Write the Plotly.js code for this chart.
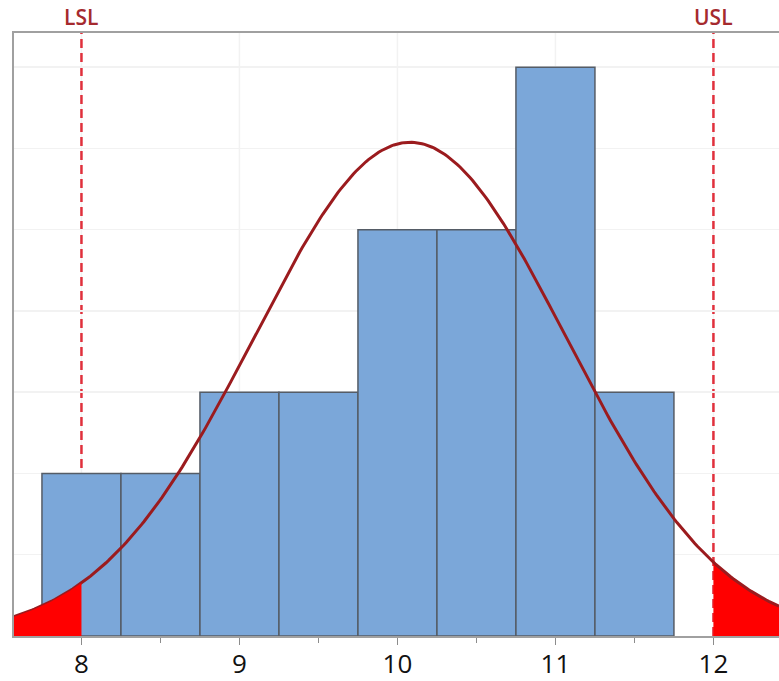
<!DOCTYPE html>
<html><head><meta charset="utf-8">
<script src="https://cdn.plot.ly/plotly-3.0.1.min.js"></script>
<style>html,body{margin:0;padding:0;background:#fff}#chart{width:779px;height:681px}</style>
</head><body><div id="chart"></div>
<script>
// Data
const binCenters = [8, 8.5, 9, 9.5, 10, 10.5, 11, 11.5];
const counts     = [2, 2, 3, 3, 5, 5, 7, 3];
const binWidth = 0.5;
const LSL = 8;
const USL = 12;
const fitMean = 10.08;
const fitSigma = 0.985;
const tickVals = [8, 9, 10, 11, 12];
const tickText = ["8", "9", "10", "11", "12"];

const xMin = 7.573, xMax = 12.415;
const N = counts.reduce((a, b) => a + b, 0);
function fitted(x) {
  return N * binWidth / (fitSigma * Math.sqrt(2 * Math.PI)) *
    Math.exp(-0.5 * Math.pow((x - fitMean) / fitSigma, 2));
}
function sample(a, b, n) {
  const xs = [], ys = [];
  for (let i = 0; i <= n; i++) { const x = a + (b - a) * i / n; xs.push(x); ys.push(fitted(x)); }
  return {xs, ys};
}
const curve = sample(xMin, xMax, 300);
const leftTail = sample(xMin, LSL, 40);
const rightTail = sample(USL, xMax, 40);

const traces = [
  {type: 'bar', x: binCenters, y: counts, width: binWidth,
   marker: {color: '#7ba7d9', line: {color: '#555c66', width: 1.5}}, hoverinfo: 'x+y'},
  {type: 'scatter', mode: 'lines', x: rightTail.xs.concat([xMax, USL]), y: rightTail.ys.concat([0, 0]),
   fill: 'toself', fillcolor: '#ff0000', line: {width: 0}},
  {type: 'scatter', mode: 'lines', x: curve.xs, y: curve.ys, line: {color: '#9b1b1e', width: 3}},
  {type: 'scatter', mode: 'lines', x: leftTail.xs.concat([LSL, xMin]), y: leftTail.ys.concat([0, 0]),
   fill: 'toself', fillcolor: '#ff0000', line: {width: 0}}
];

const gridShapes = tickVals.map(v => ({type: 'line', layer: 'below', xref: 'x', yref: 'paper',
  x0: v, x1: v, y0: 0, y1: 1, line: {color: '#f2f2f2', width: 1.5}}));
const specShapes = [LSL, USL].map(v => ({type: 'line', layer: 'below', xref: 'x', yref: 'paper',
  x0: v, x1: v, y0: 0, y1: 1, line: {color: '#e0303c', width: 2.5, dash: '9px,5px'}}));

const layout = {
  width: 779, height: 681,
  margin: {l: 14, r: 0, t: 33, b: 45},
  paper_bgcolor: '#ffffff', plot_bgcolor: '#ffffff',
  showlegend: false,
  bargap: 0,
  xaxis: {range: [xMin, xMax], tickvals: tickVals, ticktext: tickText,
          ticks: 'outside', ticklen: 7, tickwidth: 1.5, tickcolor: '#8c8c8c',
          ticklabelstandoff: -3,
          showline: true, linecolor: '#a0a0a0', linewidth: 2, mirror: true,
          showgrid: false, zeroline: false,
          tickfont: {family: 'Open Sans, Noto Sans, sans-serif', size: 26, color: '#111111'},
          minor: {dtick: 0.5, tick0: 7.5, ticks: 'outside', ticklen: 5, tickcolor: '#8c8c8c', tickwidth: 1.5, showgrid: false}},
  yaxis: {range: [0, 7.42], dtick: 1, showticklabels: false, ticks: '',
          showline: true, linecolor: '#a0a0a0', linewidth: 2,
          showgrid: true, gridcolor: '#f2f2f2', gridwidth: 1.5, zeroline: false},
  shapes: gridShapes.concat(specShapes),
  annotations: [
    {x: LSL, xref: 'x', y: 1, yref: 'paper', yanchor: 'bottom', yshift: 0, showarrow: false, text: 'LSL',
     font: {family: 'Open Sans, Noto Sans, sans-serif', size: 21, weight: 600, color: '#a52a2e'}},
    {x: USL, xref: 'x', y: 1, yref: 'paper', yanchor: 'bottom', yshift: 0, showarrow: false, text: 'USL',
     font: {family: 'Open Sans, Noto Sans, sans-serif', size: 21, weight: 600, color: '#a52a2e'}}
  ]
};
Plotly.newPlot('chart', traces, layout, {displayModeBar: false, staticPlot: true});
</script></body></html>
